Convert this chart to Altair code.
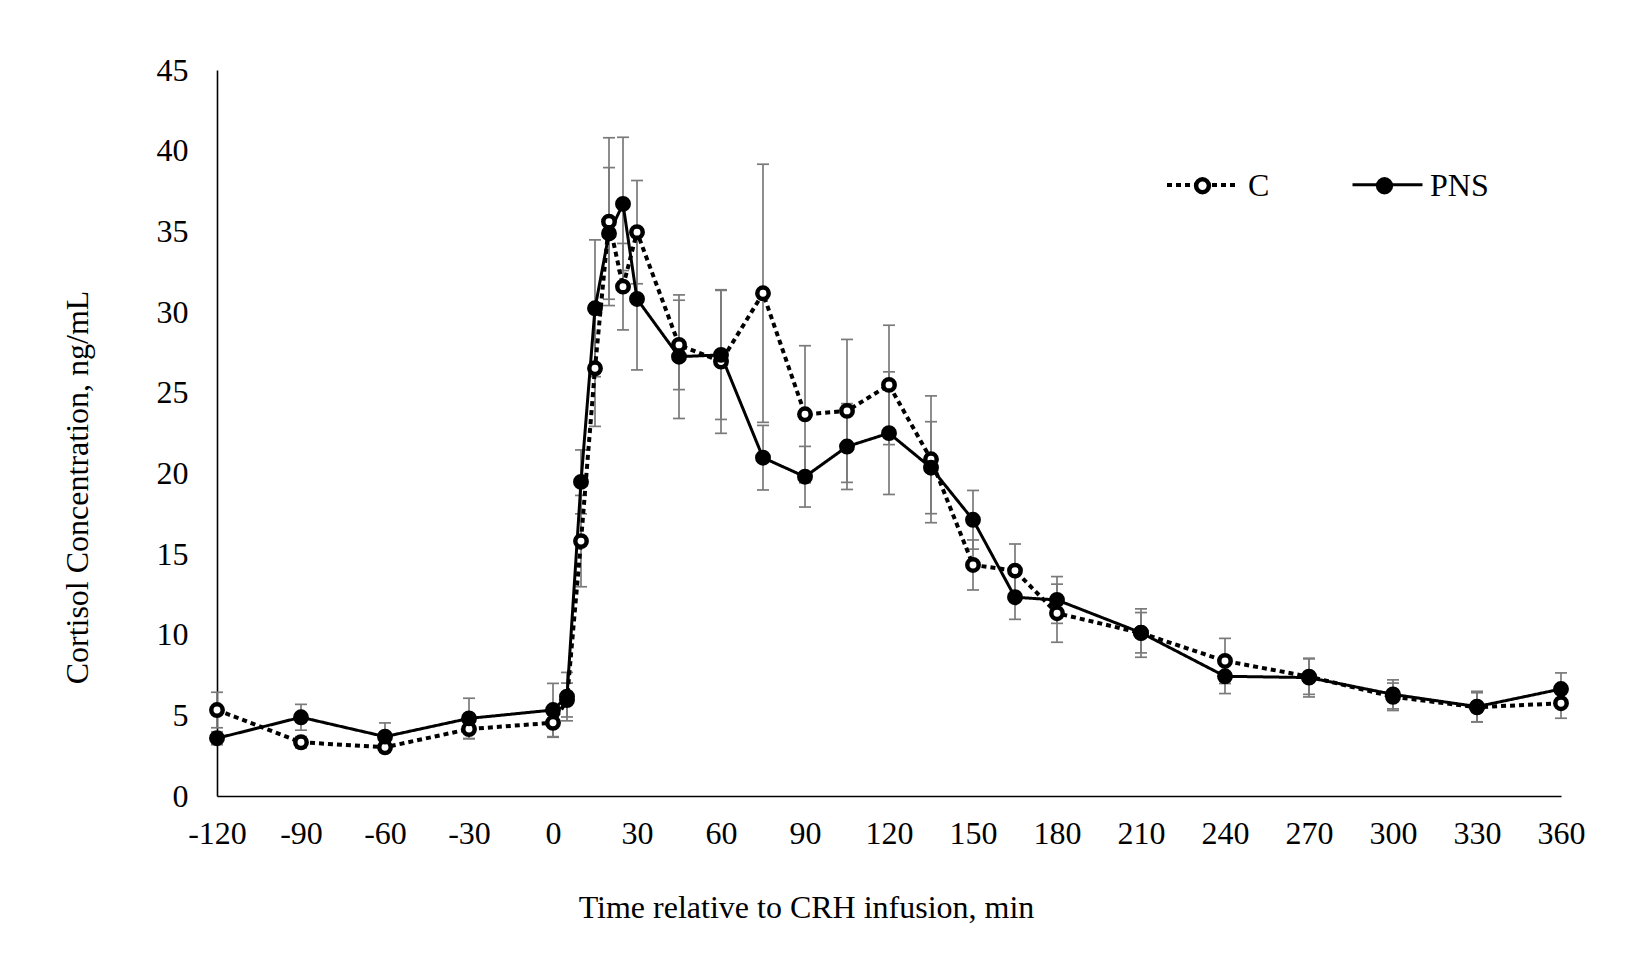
import altair as alt
import pandas as pd

# Sampling times relative to CRH infusion (min)
times = [-120, -90, -60, -30, 0, 5, 10, 15, 20, 25, 30, 45, 60, 75, 90,
         105, 120, 135, 150, 165, 180, 210, 240, 270, 300, 330, 360]

# Control group: mean cortisol (ng/mL) and SEM
c_mean = [5.33, 3.33, 3.02, 4.15, 4.54, 5.95, 15.8, 26.51, 35.6, 31.57, 34.95,
          27.96, 26.93, 31.16, 23.66, 23.87, 25.48, 20.87, 14.32, 13.97, 11.33,
          10.1, 8.37, 7.4, 6.15, 5.5, 5.75]
c_se = [1.1, 0.35, 0.3, 0.6, 0.9, 1.05, 2.83, 3.6, 5.2, 2.68, 3.2,
        2.77, 4.45, 8.0, 4.25, 4.43, 3.7, 3.93, 1.55, 1.65, 1.8,
        1.5, 1.4, 1.1, 0.85, 0.9, 0.93]

# PNS group: mean cortisol (ng/mL) and SEM
pns_mean = [3.58, 4.88, 3.68, 4.81, 5.33, 6.16, 19.47, 30.23, 34.87, 36.7, 30.81,
            27.23, 27.34, 20.97, 19.79, 21.66, 22.49, 20.35, 17.12, 12.32, 12.15,
            10.12, 7.42, 7.34, 6.3, 5.54, 6.63]
pns_se = [0.4, 0.8, 0.85, 1.25, 1.65, 1.5, 1.98, 4.24, 4.08, 4.13, 4.4,
          3.83, 4.0, 2.0, 1.88, 2.66, 3.8, 2.85, 1.82, 1.37, 1.45,
          1.25, 1.07, 1.2, 0.9, 0.95, 1.0]

x_ticks = list(range(-120, 361, 30))
y_ticks = list(range(0, 46, 5))

rows = []
for name, means, ses in (("C", c_mean, c_se), ("PNS", pns_mean, pns_se)):
    for t, m, s in zip(times, means, ses):
        rows.append({"time": t, "group": name, "marker": name, "mean": m, "se": s})
df = pd.DataFrame(rows)

FONT = "Liberation Serif"
FS = 32

axis_style = dict(ticks=False, grid=False, domainColor="black", domainWidth=1.6,
                  labelFont=FONT, labelFontSize=FS, labelColor="black",
                  titleFont=FONT, titleFontSize=FS, titleFontWeight="normal",
                  titleColor="black")

x_axis = alt.Axis(values=x_ticks, title="Time relative to CRH infusion, min",
                  labelFlush=False, labelOverlap=False,
                  labelExpr="'' + datum.value",
                  labelPadding=47, labelBaseline="alphabetic",
                  titleX=589, titleY=121, titleBaseline="alphabetic",
                  titleAlign="center", **axis_style)
y_axis = alt.Axis(values=y_ticks, title="Cortisol Concentration, ng/mL",
                  labelPadding=29, labelAlign="right",
                  titleAngle=-90, titleX=-140, titleY=417, titleAlign="center",
                  titleBaseline="middle", **axis_style)

x_scale = alt.Scale(domain=[-120, 360], nice=False, zero=False)
y_scale = alt.Scale(domain=[0, 45], nice=False, zero=True)

X = alt.X("time:Q", scale=x_scale, axis=x_axis)

def Y(field):
    return alt.Y(field, scale=y_scale, axis=y_axis)

base = alt.Chart(df).transform_calculate(
    lo="datum.mean - datum.se", hi="datum.mean + datum.se"
)

err_color = "#7a7a7a"
bars = base.mark_rule(color=err_color, strokeWidth=1.7).encode(
    x=X, y=Y("lo:Q"), y2="hi:Q"
)
caps_lo = base.mark_tick(orient="horizontal", size=12, thickness=1.7,
                         color=err_color, opacity=1).encode(x=X, y=Y("lo:Q"))
caps_hi = base.mark_tick(orient="horizontal", size=12, thickness=1.7,
                         color=err_color, opacity=1).encode(x=X, y=Y("hi:Q"))

legend_common = dict(title=None, orient="none", legendX=948, legendY=78,
                     direction="horizontal", padding=0,
                     labelFont=FONT, labelFontSize=FS, labelColor="black",
                     labelOffset=8, columnPadding=77, symbolSize=4900)

lines = base.mark_line(color="black", strokeCap="butt").encode(
    x=X, y=Y("mean:Q"),
    strokeDash=alt.StrokeDash("group:N",
                              scale=alt.Scale(range=[[5, 4], [1, 0]]),
                              legend=alt.Legend(symbolType="stroke",
                                                symbolStrokeWidth=4,
                                                symbolStrokeColor="black",
                                                labelOpacity=0, zindex=0,
                                                **legend_common)),
    strokeWidth=alt.StrokeWidth("group:N", scale=alt.Scale(range=[4, 3]),
                                legend=None),
)

r = 0.183
circle_path = f"M{r},0A{r},{r},0,1,1,{-r},0A{r},{r},0,1,1,{r},0Z"

points = base.mark_point(shape="circle", filled=True, stroke="black",
                         strokeWidth=4.5, size=130, opacity=1).encode(
    x=X, y=Y("mean:Q"),
    fill=alt.Fill("marker:N", scale=alt.Scale(range=["white", "black"]),
                  legend=alt.Legend(symbolType=circle_path,
                                    symbolStrokeWidth=4.5,
                                    symbolStrokeColor="black",
                                    symbolOpacity=1, zindex=1,
                                    **legend_common)),
)

chart = alt.layer(bars, caps_lo, caps_hi, lines, points).properties(
    width=1344, height=726,
    background="white",
    autosize=alt.AutoSizeParams(type="none"),
    padding={"left": 217, "top": 70, "right": 74, "bottom": 159},
).configure_view(stroke=None)

chart.save("out.html", embed_options={"renderer": "svg", "actions": False})
